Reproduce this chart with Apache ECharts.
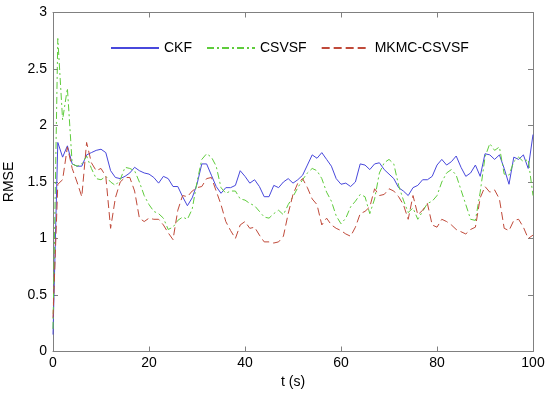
<!DOCTYPE html>
<html>
<head>
<meta charset="utf-8">
<script src="https://cdn.jsdelivr.net/npm/echarts@6/dist/echarts.min.js"></script>
<style>html,body{margin:0;padding:0;background:#fff;}#c{width:550px;height:396px;}</style>
</head>
<body>
<div id="c"></div>
<script>
var times = [];
for (var i = 0; i <= 100; i++) times.push(i);
var xTicks = [0, 20, 40, 60, 80, 100];
var yTicks = [0, 0.5, 1, 1.5, 2, 2.5, 3];

var ckf = [0.15,1.85,1.72,1.82,1.66,1.64,1.64,1.74,1.76,1.78,
1.79,1.76,1.60,1.54,1.53,1.55,1.58,1.63,1.60,1.58,
1.57,1.54,1.49,1.55,1.53,1.46,1.46,1.37,1.29,1.36,
1.48,1.66,1.66,1.56,1.46,1.40,1.45,1.45,1.47,1.60,
1.55,1.49,1.52,1.46,1.37,1.37,1.47,1.45,1.50,1.53,
1.49,1.52,1.56,1.65,1.74,1.71,1.76,1.70,1.64,1.53,
1.48,1.49,1.46,1.50,1.66,1.65,1.61,1.66,1.67,1.61,
1.57,1.53,1.45,1.42,1.38,1.45,1.47,1.52,1.52,1.55,
1.65,1.70,1.65,1.68,1.73,1.63,1.55,1.58,1.65,1.55,
1.75,1.74,1.70,1.74,1.62,1.48,1.72,1.70,1.74,1.62,1.92];

var csvsf = [0.2,2.77,2.05,2.33,1.66,1.64,1.66,1.73,1.62,1.53,
1.52,1.55,1.50,1.47,1.52,1.63,1.62,1.60,1.50,1.38,
1.30,1.24,1.22,1.18,1.08,1.10,1.16,1.19,1.17,1.26,
1.50,1.70,1.75,1.72,1.64,1.45,1.40,1.42,1.42,1.35,
1.34,1.31,1.29,1.24,1.19,1.18,1.22,1.25,1.21,1.30,
1.37,1.45,1.52,1.58,1.62,1.60,1.53,1.41,1.33,1.20,
1.13,1.18,1.28,1.33,1.39,1.37,1.22,1.35,1.58,1.67,
1.70,1.66,1.47,1.34,1.23,1.27,1.17,1.24,1.31,1.33,
1.38,1.50,1.58,1.61,1.56,1.43,1.30,1.17,1.16,1.41,
1.72,1.84,1.78,1.81,1.57,1.56,1.68,1.72,1.68,1.70,1.38];

var mkmc = [0.3,1.48,1.52,1.81,1.62,1.50,1.37,1.85,1.67,1.60,
1.62,1.55,1.09,1.36,1.50,1.54,1.54,1.42,1.18,1.15,
1.18,1.17,1.17,1.12,1.05,0.99,1.25,1.38,1.37,1.42,
1.45,1.46,1.53,1.54,1.42,1.30,1.15,1.07,1.00,1.12,
1.15,1.09,1.10,1.03,0.97,0.97,0.96,0.97,1.02,1.22,
1.39,1.49,1.53,1.45,1.35,1.30,1.12,1.18,1.12,1.09,
1.07,1.04,1.02,1.10,1.22,1.24,1.28,1.44,1.38,1.39,
1.44,1.42,1.37,1.30,1.17,1.38,1.21,1.25,1.31,1.12,
1.10,1.17,1.15,1.12,1.08,1.06,1.04,1.08,1.10,1.36,
1.46,1.41,1.43,1.35,1.09,1.07,1.16,1.17,1.10,1.00,1.03];

function pairs(v){ return times.map(function(t,i){ return [t, v[i]]; }); }

var font = 'Liberation Sans, Arial, sans-serif';
var axisColor = '#808080';
var chart = echarts.init(document.getElementById('c'), null, {renderer:'canvas'});
var common = {
  axisLine:{show:true, onZero:false, lineStyle:{color:axisColor, width:1}},
  axisTick:{show:true, inside:true, length:5, lineStyle:{color:axisColor}},
  splitLine:{show:false}
};
chart.setOption({
  animation:false,
  backgroundColor:'#fff',
  grid:{left:53, right:17, top:12.5, bottom:44.5, containLabel:false, outerBoundsMode:'none'},
  legend:{
    top:36, left:105, itemWidth:48, itemHeight:10, itemGap:14,
    itemStyle:{opacity:0},
    textStyle:{fontFamily:font, fontSize:14, color:'#000'},
    data:['CKF','CSVSF','MKMC-CSVSF']
  },
  xAxis:[
    Object.assign({type:'value', min:xTicks[0], max:xTicks[xTicks.length-1], interval:20, position:'bottom',
      name:'t (s)', nameLocation:'middle', nameGap:24,
      nameTextStyle:{fontFamily:font, fontSize:14, color:'#000'},
      axisLabel:{fontFamily:font, fontSize:14, color:'#000', margin:5}}, common),
    Object.assign({type:'value', min:0, max:100, interval:20, position:'top', axisLabel:{show:false}}, common)
  ],
  yAxis:[
    Object.assign({type:'value', min:yTicks[0], max:yTicks[yTicks.length-1], interval:0.5, position:'left',
      name:'RMSE', nameLocation:'middle', nameGap:30,
      nameTextStyle:{fontFamily:font, fontSize:14, color:'#000'},
      axisLabel:{fontFamily:font, fontSize:14, color:'#000', margin:6}}, common),
    Object.assign({type:'value', min:0, max:3, interval:0.5, position:'right', axisLabel:{show:false}}, common)
  ],
  series:[
    {name:'CKF', type:'line', data:pairs(ckf), showSymbol:false, symbol:'none',
      lineStyle:{color:'#4848dc', width:1}, itemStyle:{color:'#4848dc'}},
    {name:'CSVSF', type:'line', data:pairs(csvsf), showSymbol:false, symbol:'none',
      lineStyle:{color:'#5fcc3c', width:1, type:[7,3,2,3]}, itemStyle:{color:'#5fcc3c'}},
    {name:'MKMC-CSVSF', type:'line', data:pairs(mkmc), showSymbol:false, symbol:'none',
      lineStyle:{color:'#c04a3a', width:1, type:[8,4]}, itemStyle:{color:'#c04a3a'}}
  ]
});
</script>
</body>
</html>
